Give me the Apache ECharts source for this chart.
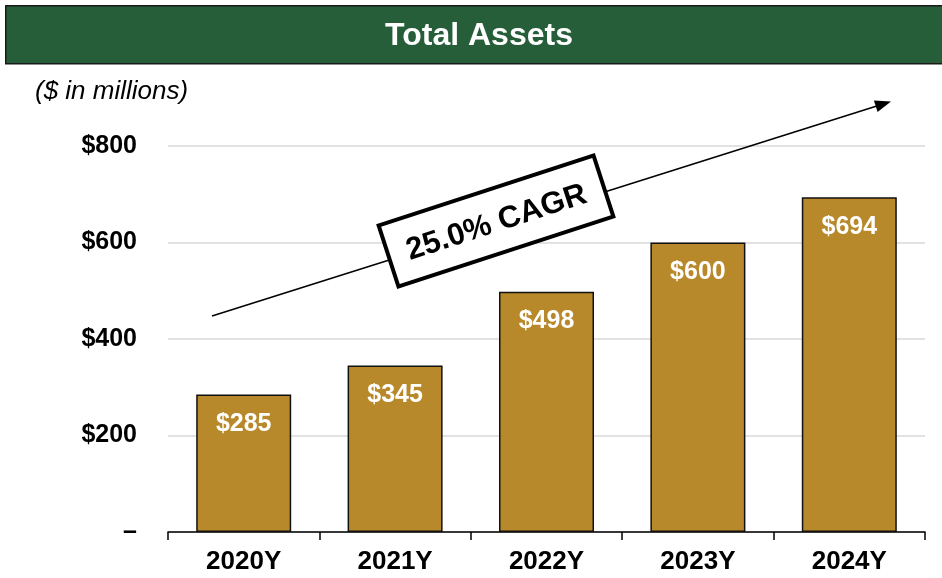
<!DOCTYPE html>
<html>
<head>
<meta charset="utf-8">
<script src="https://cdn.jsdelivr.net/npm/echarts@6/dist/echarts.min.js"></script>
<style>
  html, body { margin: 0; padding: 0; background: #fff; }
  #chart { width: 942px; height: 578px; }
</style>
</head>
<body>
<div id="chart"></div>
<script>
// data
const years = ['2020Y', '2021Y', '2022Y', '2023Y', '2024Y'];
const totalAssets = [285, 345, 498, 600, 694];
const yTicks = [0, 200, 400, 600, 800];
const cagrText = '25.0% CAGR';

const font = 'Liberation Sans, Arial, sans-serif';
const chart = echarts.init(document.getElementById('chart'));

const option = {
  animation: false,
  grid: { left: 168, right: 17, top: 146, bottom: 46 },
  xAxis: {
    type: 'category',
    data: years,
    axisLine: { lineStyle: { color: '#000', width: 1.5 } },
    axisTick: { show: true, length: 8, lineStyle: { color: '#000', width: 1.5 } },
    axisLabel: { color: '#000', fontFamily: font, fontWeight: 'bold', fontSize: 26, margin: 17 }
  },
  yAxis: {
    type: 'value',
    min: yTicks[0],
    max: yTicks[yTicks.length - 1],
    interval: 200,
    axisLine: { show: false },
    axisTick: { show: false },
    splitLine: { lineStyle: { color: '#d9d9d9', width: 1.5 } },
    axisLabel: {
      color: '#000', fontFamily: font, fontWeight: 'bold', fontSize: 25, margin: 31,
      formatter: v => v === 0 ? '–' : '$' + v
    }
  },
  series: [{
    type: 'bar',
    data: totalAssets,
    barWidth: 95,
    itemStyle: { color: '#B8892A', borderColor: '#111', borderWidth: 1.5 },
    label: {
      show: true,
      position: 'insideTop',
      distance: 17,
      color: '#fff',
      fontFamily: font,
      fontWeight: 'bold',
      fontSize: 25,
      formatter: p => '$' + p.value
    }
  }],
  graphic: [
    {
      type: 'rect', left: 5, top: 5, z: 10,
      shape: { width: 950, height: 58 },
      style: { fill: '#255E38', stroke: '#1a1a1a', lineWidth: 1.5 }
    },
    {
      type: 'text', x: 479, y: 36, z: 11,
      style: {
        text: 'Total Assets', fill: '#fff', align: 'center', verticalAlign: 'middle',
        font: 'bold 32px ' + font
      }
    },
    {
      type: 'text', x: 35, y: 92, z: 11,
      style: {
        text: '($ in millions)', fill: '#000', verticalAlign: 'middle',
        font: 'italic 26px ' + font
      }
    },
    {
      // trend arrow
      type: 'line', z: 20,
      shape: { x1: 212, y1: 316, x2: 880, y2: 105 },
      style: { stroke: '#000', lineWidth: 1.5 }
    },
    {
      type: 'polygon', z: 20,
      x: 891, y: 101.5, rotation: Math.atan2(214, 678),
      shape: { points: [[0, 0], [-16, -6], [-16, 6]] },
      style: { fill: '#000' }
    },
    {
      type: 'group', x: 496, y: 221, rotation: Math.atan2(70, 215),
      children: [
        {
          type: 'rect', z: 30,
          shape: { x: -113, y: -32, width: 226, height: 64 },
          style: { fill: '#fff', stroke: '#000', lineWidth: 4 }
        },
        {
          type: 'text', z: 31,
          style: {
            text: cagrText, x: 0, y: 2, align: 'center', verticalAlign: 'middle',
            fill: '#000', font: 'bold 31px ' + font
          }
        }
      ]
    }
  ]
};
chart.setOption(option);
</script>
</body>
</html>
